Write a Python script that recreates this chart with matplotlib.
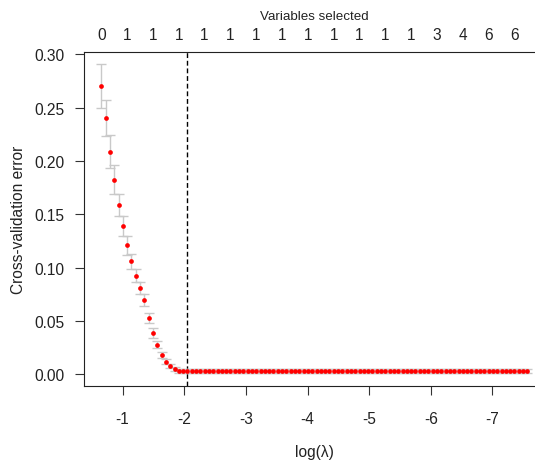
import matplotlib
matplotlib.use("Agg")
import matplotlib.pyplot as plt

plt.rcParams['font.family'] = ['Liberation Sans', 'DejaVu Sans']
plt.rcParams['axes.unicode_minus'] = False

# log(lambda) path of the lasso fit (100 values)
log_lambda = [
    -0.656, -0.726, -0.796, -0.865, -0.935, -1.005, -1.075, -1.145, -1.214, -1.284,
    -1.354, -1.424, -1.494, -1.563, -1.633, -1.703, -1.773, -1.843, -1.912, -1.982,
    -2.052, -2.122, -2.192, -2.261, -2.331, -2.401, -2.471, -2.541, -2.610, -2.680,
    -2.750, -2.820, -2.890, -2.959, -3.029, -3.099, -3.169, -3.239, -3.308, -3.378,
    -3.448, -3.518, -3.588, -3.657, -3.727, -3.797, -3.867, -3.937, -4.006, -4.076,
    -4.146, -4.216, -4.286, -4.355, -4.425, -4.495, -4.565, -4.635, -4.704, -4.774,
    -4.844, -4.914, -4.984, -5.053, -5.123, -5.193, -5.263, -5.333, -5.402, -5.472,
    -5.542, -5.612, -5.682, -5.751, -5.821, -5.891, -5.961, -6.031, -6.100, -6.170,
    -6.240, -6.310, -6.380, -6.449, -6.519, -6.589, -6.659, -6.729, -6.798, -6.868,
    -6.938, -7.008, -7.078, -7.147, -7.217, -7.287, -7.357, -7.427, -7.496, -7.566,
]

# mean cross-validation error per lambda
cv_error = [
    0.2707, 0.2402, 0.2088, 0.1823, 0.1588, 0.1388, 0.1210, 0.1060, 0.0925, 0.0812,
    0.0697, 0.0528, 0.0385, 0.0275, 0.0184, 0.0118, 0.0078, 0.0053, 0.0033, 0.0031,
    0.0031, 0.0031, 0.0031, 0.0031, 0.0031, 0.0031, 0.0031, 0.0031, 0.0031, 0.0031,
    0.0031, 0.0031, 0.0031, 0.0031, 0.0031, 0.0031, 0.0031, 0.0031, 0.0031, 0.0031,
    0.0031, 0.0031, 0.0031, 0.0031, 0.0031, 0.0031, 0.0031, 0.0031, 0.0031, 0.0031,
    0.0031, 0.0031, 0.0031, 0.0031, 0.0031, 0.0031, 0.0031, 0.0031, 0.0031, 0.0031,
    0.0031, 0.0031, 0.0031, 0.0031, 0.0031, 0.0031, 0.0031, 0.0031, 0.0031, 0.0031,
    0.0031, 0.0031, 0.0031, 0.0031, 0.0031, 0.0031, 0.0031, 0.0031, 0.0031, 0.0031,
    0.0031, 0.0031, 0.0031, 0.0031, 0.0031, 0.0031, 0.0031, 0.0031, 0.0031, 0.0031,
    0.0031, 0.0031, 0.0031, 0.0031, 0.0031, 0.0031, 0.0031, 0.0031, 0.0031, 0.0031,
]

# standard error of the cross-validation error
cv_se = [
    0.0206, 0.0169, 0.0155, 0.0136, 0.0103, 0.0094, 0.0087, 0.0070, 0.0063, 0.0056,
    0.0056, 0.0047, 0.0047, 0.0033, 0.0028, 0.0023, 0.0023, 0.0019, 0.0019, 0.0018,
    0.0018, 0.0018, 0.0018, 0.0018, 0.0018, 0.0018, 0.0018, 0.0018, 0.0018, 0.0018,
    0.0018, 0.0018, 0.0018, 0.0018, 0.0018, 0.0018, 0.0018, 0.0018, 0.0018, 0.0018,
    0.0018, 0.0018, 0.0018, 0.0018, 0.0018, 0.0018, 0.0018, 0.0018, 0.0018, 0.0018,
    0.0018, 0.0018, 0.0018, 0.0018, 0.0018, 0.0018, 0.0018, 0.0018, 0.0018, 0.0018,
    0.0018, 0.0018, 0.0018, 0.0018, 0.0018, 0.0018, 0.0018, 0.0018, 0.0018, 0.0018,
    0.0018, 0.0018, 0.0018, 0.0018, 0.0018, 0.0018, 0.0018, 0.0018, 0.0018, 0.0018,
    0.0018, 0.0018, 0.0018, 0.0018, 0.0018, 0.0018, 0.0018, 0.0018, 0.0018, 0.0018,
    0.0018, 0.0018, 0.0018, 0.0018, 0.0018, 0.0018, 0.0018, 0.0018, 0.0018, 0.0018,
]

# number of selected variables shown along the top (every 6th lambda)
selected_step = 6
selected_counts = ["0", "1", "1", "1", "1", "1", "1", "1", "1", "1",
                   "1", "1", "1", "3", "4", "6", "6"]

# index of the chosen lambda (dashed line)
chosen_index = 20

x_ticks = [-1, -2, -3, -4, -5, -6, -7]
x_tick_labels = ["-1", "-2", "-3", "-4", "-5", "-6", "-7"]
y_ticks = [0.00, 0.05, 0.10, 0.15, 0.20, 0.25, 0.30]
y_tick_labels = ["0.00", "0.05", "0.10", "0.15", "0.20", "0.25", "0.30"]

W, H = 535, 464
fig = plt.figure(figsize=(W / 100, H / 100), dpi=100)
left, right, top, bottom = 84.3, 544.4, 53.3, 386.7
ax = fig.add_axes([left / W, 1 - bottom / H, (right - left) / W, (bottom - top) / H])

ax.errorbar(log_lambda, cv_error, yerr=cv_se, fmt='none', ecolor='#c9c9c9',
            elinewidth=1.0, capsize=3.8, capthick=1.0, zorder=2)
ax.plot(log_lambda, cv_error, linestyle='none', marker='o', color='red',
        markersize=3.4, markeredgewidth=0, zorder=3)
ax.axvline(log_lambda[chosen_index], color='black', linestyle=(0, (3.5, 2.0)),
           linewidth=1.0, zorder=1)

ax.set_xlim(-0.380, -7.842)
ax.set_ylim(-0.01069, 0.30188)
ax.set_xticks(x_ticks)
ax.set_xticklabels(x_tick_labels)
ax.set_yticks(y_ticks)
ax.set_yticklabels(y_tick_labels)
ax.tick_params(axis='both', length=6.5, width=0.8, color='#333333',
               labelsize=11.2, labelcolor='#222222')
ax.tick_params(axis='x', pad=11.5)
ax.tick_params(axis='y', pad=7.7)
for s in ax.spines.values():
    s.set_linewidth(0.8)
    s.set_color('#222222')

for lab, x in zip(selected_counts, log_lambda[::selected_step]):
    ax.annotate(lab, xy=(x, 1.0), xycoords=('data', 'axes fraction'),
                xytext=(0, 12.5), textcoords='offset points',
                ha='center', va='center', fontsize=11.2, color='#222222')

ax.annotate("Variables selected", xy=(0.5, 1.0), xycoords='axes fraction',
            xytext=(0, 26.2), textcoords='offset points',
            ha='center', va='center', fontsize=9.6, color='#222222')

fig.text(19 / W, 1 - 220 / H, "Cross-validation error", rotation=90,
         ha='center', va='center', fontsize=11.2, color='#222222')
fig.text((left + right) / 2 / W, 1 - 453 / H, "log(λ)",
         ha='center', va='center', fontsize=11.2, color='#222222')

fig.savefig("out.png", dpi=100)
